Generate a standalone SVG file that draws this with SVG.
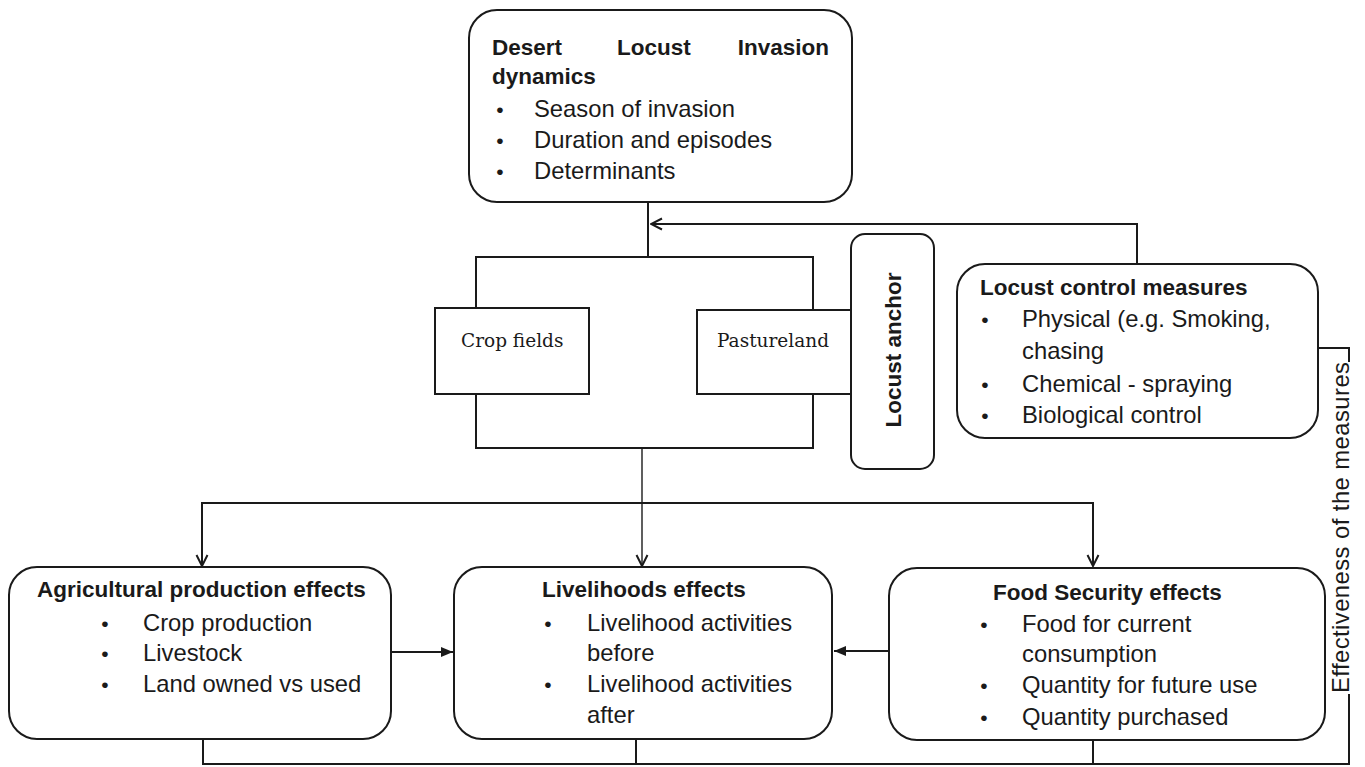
<svg xmlns="http://www.w3.org/2000/svg" width="1365" height="767" viewBox="0 0 1365 767">
<style>
  .box { fill: #ffffff; stroke: #1a1a1a; stroke-width: 2; }
  .rect { fill: #ffffff; stroke: #1a1a1a; stroke-width: 2; }
  .ln { fill: none; stroke: #1a1a1a; stroke-width: 2; }
  .thin { fill: none; stroke: #1a1a1a; stroke-width: 1.4; }
  .t { font-family: "Liberation Sans", Arial, sans-serif; font-size: 23.8px; fill: #1a1a1a; }
  .b { font-family: "Liberation Sans", Arial, sans-serif; font-size: 22.5px; font-weight: bold; fill: #1a1a1a; }
  .bu { font-family: "Liberation Sans", Arial, sans-serif; font-size: 21px; fill: #1a1a1a; text-anchor: middle; }
  .s { font-family: "DejaVu Serif", "Liberation Serif", serif; font-size: 18.5px; fill: #1a1a1a; }
</style>
<defs>
  <marker id="open" viewBox="0 0 14 14" refX="13" refY="7" markerWidth="14" markerHeight="14" orient="auto" markerUnits="userSpaceOnUse">
    <path d="M2,1.5 L13,7 L2,12.5" fill="none" stroke="#1a1a1a" stroke-width="2"/>
  </marker>
  <marker id="filled" viewBox="0 0 12 10" refX="12" refY="5" markerWidth="12" markerHeight="10" orient="auto" markerUnits="userSpaceOnUse">
    <path d="M0,0 L12,5 L0,10 z" fill="#1a1a1a"/>
  </marker>
</defs>
<rect width="1365" height="767" fill="#ffffff"/>

<g id="connectors">
  <line class="ln" x1="648" y1="202" x2="648" y2="257"/>
  <path class="ln" d="M1137 264 V224 H651" marker-end="url(#open)"/>
  <line class="thin" x1="642" y1="448" x2="642" y2="566" marker-end="url(#open)"/>
  <path class="ln" d="M202 503 H1093"/>
  <line class="ln" x1="202" y1="502" x2="202" y2="566" marker-end="url(#open)"/>
  <line class="ln" x1="1093" y1="502" x2="1093" y2="566" marker-end="url(#open)"/>
  <line class="ln" x1="391" y1="652" x2="453" y2="652" marker-end="url(#filled)"/>
  <line class="ln" x1="889" y1="651" x2="834" y2="651" marker-end="url(#filled)"/>
  <path class="ln" d="M203 739 V764 H1349 V694"/>
  <line class="ln" x1="636" y1="739" x2="636" y2="764"/>
  <line class="ln" x1="1093" y1="740" x2="1093" y2="764"/>
  <path class="ln" d="M1318 348 H1349 V362"/>
  <text class="t" transform="translate(1349,693) rotate(-90)" textLength="331" lengthAdjust="spacing">Effectiveness of the measures</text>
</g>

<g id="invasion-dynamics">
  <rect class="box" x="469" y="10" width="383" height="192" rx="28"/>
  <text class="b" x="492" y="55">Desert</text>
  <text class="b" x="617" y="55">Locust</text>
  <text class="b" x="829" y="55" text-anchor="end">Invasion</text>
  <text class="b" x="492" y="84">dynamics</text>
  <text class="bu" x="500" y="117">•</text>
  <text class="t" x="534" y="117">Season of invasion</text>
  <text class="bu" x="500" y="148">•</text>
  <text class="t" x="534" y="148">Duration and episodes</text>
  <text class="bu" x="500" y="179">•</text>
  <text class="t" x="534" y="179">Determinants</text>
</g>

<g id="land-frame">
  <rect class="ln" x="476" y="257" width="337" height="191"/>
</g>

<g id="crop-fields">
  <rect class="rect" x="435" y="308" width="154" height="86"/>
  <text class="s" x="461" y="347">Crop fields</text>
</g>

<g id="pastureland">
  <rect class="rect" x="697" y="310" width="154" height="84"/>
  <text class="s" x="717" y="347">Pastureland</text>
</g>

<g id="locust-anchor">
  <rect class="box" x="851" y="234" width="83" height="235" rx="14"/>
  <text class="b" font-size="22" transform="translate(901,350) rotate(-90)" text-anchor="middle">Locust anchor</text>
</g>

<g id="control-measures">
  <rect class="box" x="957" y="264" width="361" height="174" rx="28"/>
  <text class="b" x="980" y="295">Locust control measures</text>
  <text class="bu" x="985" y="327">•</text>
  <text class="t" x="1022" y="327">Physical (e.g. Smoking,</text>
  <text class="t" x="1022" y="359">chasing</text>
  <text class="bu" x="985" y="392">•</text>
  <text class="t" x="1022" y="392">Chemical - spraying</text>
  <text class="bu" x="985" y="423">•</text>
  <text class="t" x="1022" y="423">Biological control</text>
</g>

<g id="agricultural-effects">
  <rect class="box" x="9" y="567" width="382" height="172" rx="28"/>
  <text class="b" x="37" y="597">Agricultural production effects</text>
  <text class="bu" x="105" y="631">•</text>
  <text class="t" x="143" y="631">Crop production</text>
  <text class="bu" x="105" y="661">•</text>
  <text class="t" x="143" y="661">Livestock</text>
  <text class="bu" x="105" y="692">•</text>
  <text class="t" x="143" y="692">Land owned vs used</text>
</g>

<g id="livelihoods-effects">
  <rect class="box" x="454" y="567" width="378" height="172" rx="28"/>
  <text class="b" x="542" y="597">Livelihoods effects</text>
  <text class="bu" x="548" y="631">•</text>
  <text class="t" x="587" y="631">Livelihood activities</text>
  <text class="t" x="587" y="661">before</text>
  <text class="bu" x="548" y="692">•</text>
  <text class="t" x="587" y="692">Livelihood activities</text>
  <text class="t" x="587" y="723">after</text>
</g>

<g id="food-security-effects">
  <rect class="box" x="889" y="568" width="436" height="172" rx="28"/>
  <text class="b" x="993" y="600">Food Security effects</text>
  <text class="bu" x="984" y="632">•</text>
  <text class="t" x="1022" y="632">Food for current</text>
  <text class="t" x="1022" y="662">consumption</text>
  <text class="bu" x="984" y="693">•</text>
  <text class="t" x="1022" y="693">Quantity for future use</text>
  <text class="bu" x="984" y="725">•</text>
  <text class="t" x="1022" y="725">Quantity purchased</text>
</g>
</svg>
